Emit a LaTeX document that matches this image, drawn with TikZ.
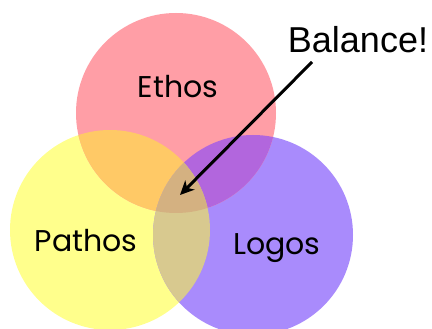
\documentclass[tikz,border=0pt]{standalone}
\usepackage{fontspec}
\setmainfont{Liberation Sans}
\newfontfamily\roundfont{Poppins}
\usetikzlibrary{arrows.meta}

\definecolor{ethoscol}{HTML}{FF9EA6}
\definecolor{pathoscol}{HTML}{FFFF8C}
\definecolor{logoscol}{HTML}{A98BFC}
\definecolor{epcol}{HTML}{FFC966}
\definecolor{elcol}{HTML}{B266DD}
\definecolor{plcol}{HTML}{D8C98F}
\definecolor{allcol}{HTML}{D4B181}

\tikzset{
  word/.style = {font=\roundfont\fontsize{30}{30}\selectfont, anchor=base, inner sep=0pt},
}

\begin{document}
\begin{tikzpicture}[x=1pt, y=1pt]
\useasboundingbox (0,0) rectangle (432,329);
\fill[white] (0,0) rectangle (432,329);

\def\ethos{(176,216) circle (100)}
\def\pathos{(110,99) circle (100)}
\def\logos{(253,94) circle (100)}

\fill[pathoscol] \pathos;
\fill[logoscol] \logos;
\fill[ethoscol] \ethos;
\begin{scope}
  \clip \ethos;
  \fill[epcol] \pathos;
  \fill[elcol] \logos;
\end{scope}
\begin{scope}
  \clip \pathos;
  \fill[plcol] \logos;
  \clip \logos;
  \fill[allcol] \ethos;
\end{scope}

\node[word] (ethos) at (178,231) {Ethos};
\node[word] (pathos) at (86,77) {Pathos};
\node[word] (logos) at (277,74) {Logos};
\node[font=\fontsize{36}{36}\selectfont, anchor=base, inner sep=0pt] (balance) at (358,276) {Balance!};

\coordinate (tail) at (312,267);
\coordinate (middle) at (180,134);
\draw[line width=3pt, -{Stealth[length=14pt,width=13pt,inset=4pt]}] (tail) -- (middle);
\end{tikzpicture}
\end{document}
